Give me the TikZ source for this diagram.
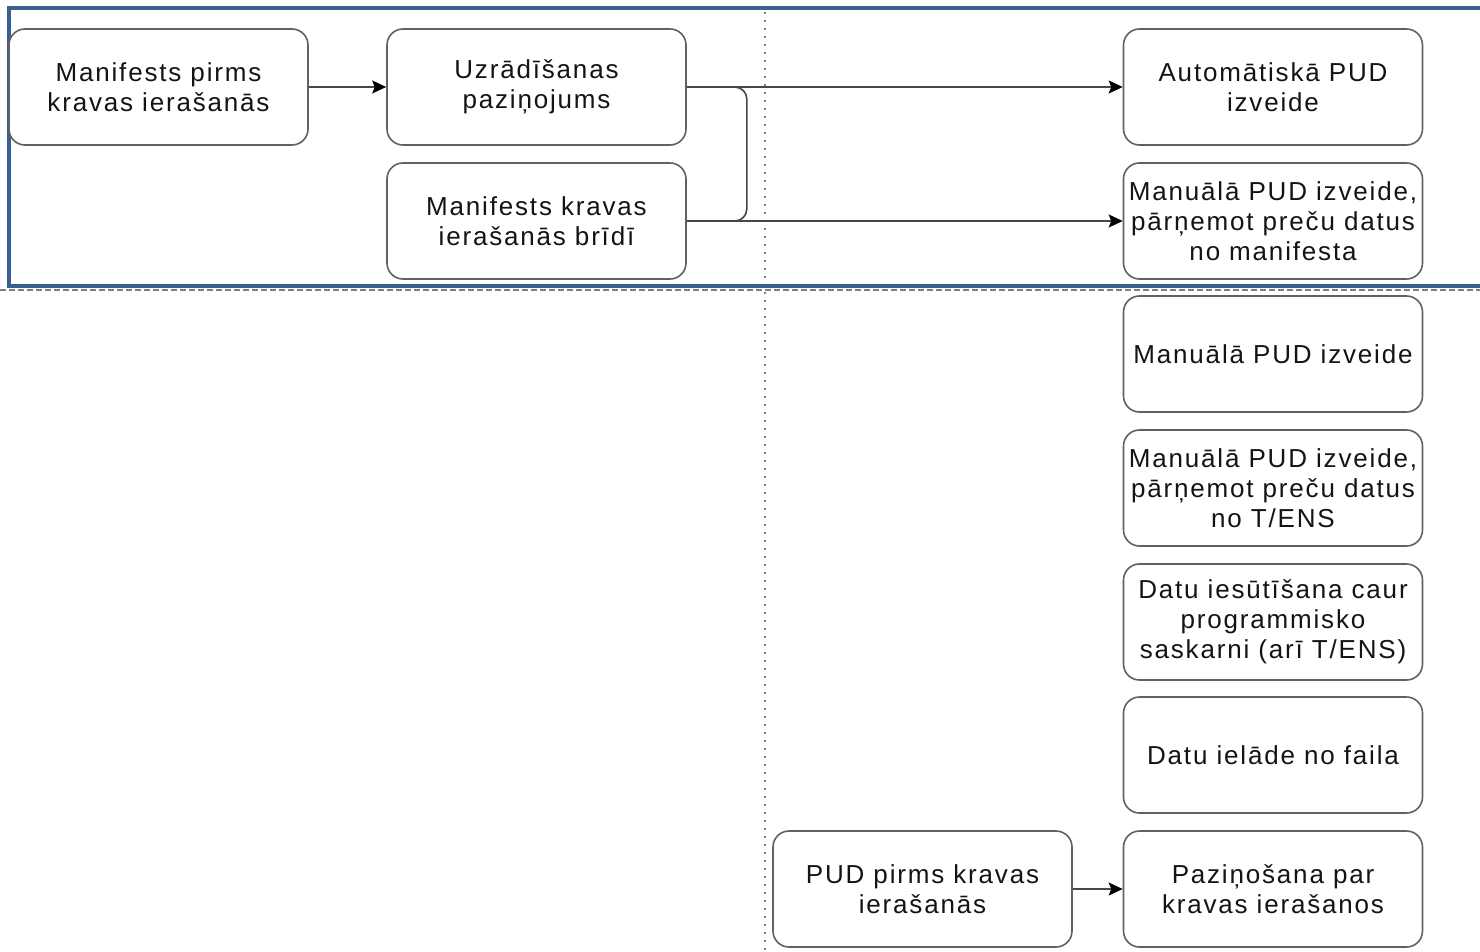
\documentclass[tikz,border=0pt]{standalone}
\usepackage{fontspec}
\setmainfont{Liberation Sans}[LetterSpace=7]
\usetikzlibrary{arrows.meta}
\definecolor{frameblue}{RGB}{58,95,145}

\begin{document}
\begin{tikzpicture}[x=1pt, y=-1pt,
    box/.style={draw=black!62, fill=white, line width=1.6pt, rounded corners=16pt,
      minimum width=299pt, minimum height=116pt, inner sep=0pt, align=center,
      text=black!92, font=\fontsize{26}{30}\selectfont},
    flow/.style={draw=black!72, line width=1.6pt, -{Stealth[length=14pt, width=13pt, inset=2.5pt, fill=black, color=black]}}]
    \useasboundingbox (0,0) rectangle (1480,952);
    % Separators
    \draw[gray, line width=2pt, dash pattern=on 2pt off 6pt] (765,12) -- (765,952);
    \draw[gray, line width=2pt, dash pattern=on 6pt off 3pt] (0,290) -- (1480,290);
    % Frame
    \draw[frameblue, line width=3.5pt] (9,8) rectangle (1495,286);
    % Left part
    \node[box] (manbefore) at (158.5,87) {Manifests pirms\\kravas ierašanās};
    \node[box] (notice) at (536.5,87) {Uzrādīšanas\\paziņojums};
    \node[box] (manarrival) at (536.5,221) {Manifests kravas\\ierašanās brīdī};
    \node[box] (pudbefore) at (922.5,889) {PUD pirms kravas\\ierašanās};
    % Right column
    \node[box] (autopud) at (1273,87) {Automātiskā PUD\\izveide};
    \node[box] (manpudmanifest) at (1273,221) {Manuālā PUD izveide,\\pārņemot preču datus\\no manifesta};
    \node[box] (manpud) at (1273,354) {Manuālā PUD izveide};
    \node[box] (manpudtens) at (1273,488) {Manuālā PUD izveide,\\pārņemot preču datus\\no T/ENS};
    \node[box] (apidata) at (1273,622) {Datu iesūtīšana caur\\programmisko\\saskarni (arī T/ENS)};
    \node[box] (fileload) at (1273,755) {Datu ielāde no faila};
    \node[box] (arrivalnote) at (1273,889) {Paziņošana par\\kravas ierašanos};
    % Connectors
    \draw[flow] (manbefore) -- (notice);
    \draw[draw=black!72, line width=1.6pt, rounded corners=12pt] (notice.east) -- ++(60,0) |- (manarrival.east);
    \draw[flow] (notice.east) -- (autopud.west);
    \draw[flow] (manarrival.east) -- (manpudmanifest.west);
    \draw[flow] (pudbefore) -- (arrivalnote);
\end{tikzpicture}
\end{document}
